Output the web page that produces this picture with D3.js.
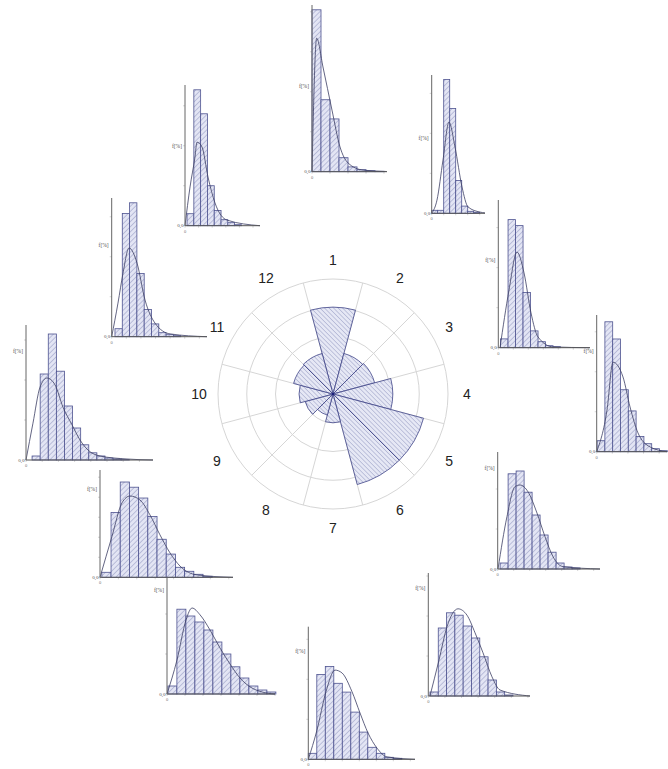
<!DOCTYPE html>
<html><head><meta charset="utf-8">
<script src="https://cdn.jsdelivr.net/npm/d3@7"></script>
<style>body{margin:0;background:#fff}svg{display:block}</style>
</head><body>
<svg id="c" width="668" height="769"></svg>
<script>
// ---------- central rose data ----------
const sectorLabels = ["1","2","3","4","5","6","7","8","9","10","11","12"];
const sectorValues = [15.1, 7.3, 7.5, 10.4, 16.3, 16.3, 5.0, 3.8, 5.0, 5.9, 7.1, 7.3];
const ringValues = [5, 10, 15, 20];

// ---------- histogram data (bar heights in %, one bar per class) ----------
const hist1  = [40.5, 18, 13.2, 3.5, 1.2, 0.5, 0.25, 0.1];
const hist2  = [0.75, 0.75, 33.5, 26.2, 8.2, 1.8, 0.5, 0.25];
const hist3  = [2.2, 32, 30.5, 13.8, 4.2, 1.5, 0.5, 0.25];
const hist4  = [2.75, 32.5, 28.2, 15.5, 10.2, 3.8, 2, 0.75, 0.25];
const hist5  = [1.5, 23.8, 24.5, 19.2, 13.5, 8.5, 4.2, 1.5, 0.5, 0.25];
const hist6  = [1, 17, 20.8, 20.2, 17.5, 14.5, 9.8, 4, 1, 0.25];
const hist7  = [1.5, 21.2, 23.2, 19, 16.8, 11.8, 6.8, 3, 1.5, 0.5, 0.25];
const hist8  = [2, 21.2, 19.5, 18, 16, 13, 10, 6.8, 4, 2, 1, 0.5];
const hist9  = [1.25, 16.2, 23.8, 22.5, 19.8, 15.2, 9.5, 5.8, 2.5, 1.5, 0.75, 0.25];
const hist10 = [1, 21.5, 31.5, 22.2, 13.5, 8, 3.8, 1.8, 1, 0.5, 0.25, 0.1];
const hist11 = [2, 30.8, 33.5, 15.8, 6.8, 3.2, 1, 0.5, 0.25];
const hist12 = [3, 34, 28, 10, 3.8, 1.5, 0.75, 0.25];

// fitted curves: [class position, %]
const curve1  = [[0,0],[0.52,33.4],[1.22,26.2],[2.22,15.4],[3.11,6.2],[4.0,2.2],[5.67,0.4],[8.3,0.05]];
const curve2  = [[0,0],[0.88,3.3],[1.88,13.3],[2.88,22.8],[3.88,16.6],[5.05,6.6],[6.05,1.6],[8.05,0.3],[8.88,0.1]];
const curve3  = [[0.23,0],[1.43,14.4],[2.49,23.9],[3.43,18.7],[4.36,8.7],[5.29,2.7],[7.29,0.2],[12.2,0]];
const curve4  = [[0,0],[1.32,10.4],[2.09,22.4],[3.37,18.7],[4.27,11.2],[5.29,4.7],[6.83,1.2],[9.0,0]];
const curve5  = [[0.04,0],[1.16,13.1],[2.16,20.6],[2.79,21],[3.79,19.3],[4.91,14],[5.91,8.1],[6.91,3.1],[8.16,0.6],[12.79,0]];
const curve6  = [[0.2,0],[1.29,9],[2.25,17.3],[3.58,21.8],[4.66,20.2],[5.63,15.8],[6.59,10.8],[7.67,4.8],[8.64,1.5],[12.25,0]];
const curve7  = [[0,0],[1.02,7.3],[2.08,16.9],[3.14,22.3],[3.96,21.6],[5.14,16.9],[6.08,11.6],[7.02,6.6],[8.08,2.8],[9.26,0.6],[12.55,0]];
const curve8  = [[0,0],[1.11,8.5],[2.11,18.5],[2.78,21.5],[3.67,19.8],[4.78,16],[5.89,11.5],[7,7.5],[8.11,4],[9.22,1.8],[10.56,0.5],[12,0]];
const curve9  = [[0,0],[1.3,10.2],[2.39,18.6],[3.26,20.3],[4.35,19.3],[5.43,15.6],[6.52,10.6],[7.61,6.1],[8.7,2.8],[10.54,0.6],[14.46,0]];
const curve10 = [[0,0],[0.86,9.2],[1.73,18.2],[2.59,20.5],[3.58,18.8],[4.57,13.2],[5.68,8.8],[6.67,5],[7.65,2.5],[9.14,1],[12.47,0.25],[15.68,0]];
const curve11 = [[0,0],[0.86,8.4],[1.55,15.9],[2.37,22.2],[3.47,18.4],[4.56,9.2],[5.93,3.4],[7.99,0.7],[13.05,0]];
const curve12 = [[0,0],[0.74,9.7],[1.47,17.2],[1.76,20.9],[2.5,19.7],[3.38,12.2],[4.41,5.7],[6.18,1.4],[11.03,0]];

const histStart = [0, 0, 0.3, 0.05, 0.3, 0.2, 0, 0.1, 0.2, 0.75, 0.45, 0.3];   // first class start
const histXMax  = [8.33, 8.88, 12.23, 9.01, 12.79, 12.25, 12.55, 12, 14.46, 15.68, 13.05, 11.03];
const histYTop  = [41.7, 34.6, 36.9, 34.2, 29.25, 30.75, 33.15, 29, 26.8, 33.75, 34.7, 35.2];
const histLabelAt = [0.50, 0.53, 0.58, 0.72, 0.85, 0.86, 0.80, 0.88, 0.80, 0.79, 0.65, 0.55];
const yLabel = "f[%]";
const zeroLabel = "0,0";

const hists  = [hist1,hist2,hist3,hist4,hist5,hist6,hist7,hist8,hist9,hist10,hist11,hist12];
const curves = [curve1,curve2,curve3,curve4,curve5,curve6,curve7,curve8,curve9,curve10,curve11,curve12];

// ---------- layout (pixels) ----------
const panels = [
  {x0:312,   y0:171.7, w:75,    h:166.7},
  {x0:431.7, y0:213.3, w:53.3,  h:138.3},
  {x0:498.3, y0:347.7, w:91.7,  h:147.7},
  {x0:596.7, y0:451.7, w:70.3,  h:136.7},
  {x0:497.7, y0:569,   w:102.3, h:117},
  {x0:428.3, y0:696,   w:101.7, h:123},
  {x0:308.3, y0:759.3, w:106.7, h:132.6},
  {x0:167,   y0:694,   w:108,   h:116},
  {x0:100,   y0:577.3, w:133,   h:107.3},
  {x0:26,    y0:460,   w:127,   h:135},
  {x0:111.7, y0:336.7, w:95.3,  h:138.7},
  {x0:185,   y0:225.7, w:75,    h:140.7}
];
const rose = {cx:333, cy:394, R:115, labelR:134};

const svg = d3.select("#c");
const defs = svg.append("defs");
function hatch(id, rot, bg, fg, size){
  const p = defs.append("pattern").attr("id", id).attr("patternUnits","userSpaceOnUse")
    .attr("width", size).attr("height", size).attr("patternTransform", `rotate(${rot})`);
  p.append("rect").attr("width", size).attr("height", size).attr("fill", bg);
  p.append("line").attr("x1",0).attr("y1",0).attr("x2",0).attr("y2",size)
    .attr("stroke", fg).attr("stroke-width", 0.8);
}
hatch("hH", 45, "#e3e5f4", "#7c81b2", 3.6);
hatch("hR", -45, "#e6e8f5", "#858ab8", 3.2);

// ---------- histograms ----------
panels.forEach((p, k) => {
  const g = svg.append("g");
  const x = d3.scaleLinear().domain([0, histXMax[k]]).range([p.x0, p.x0 + p.w]);
  const y = d3.scaleLinear().domain([0, histYTop[k]]).range([p.y0, p.y0 - p.h]);
  const data = hists[k];
  const s = histStart[k];
  // faint ticks
  const yt = y.ticks(4);
  g.selectAll("line.yt").data(yt).join("line")
    .attr("x1", p.x0 - 2).attr("x2", p.x0).attr("y1", d => y(d)).attr("y2", d => y(d))
    .attr("stroke", "#bbb").attr("stroke-width", 0.6);
  const xt = d3.range(0, Math.floor(histXMax[k]) + 1, 2);
  g.selectAll("line.xt").data(xt).join("line")
    .attr("x1", d => x(d)).attr("x2", d => x(d)).attr("y1", p.y0).attr("y2", p.y0 + 2)
    .attr("stroke", "#bbb").attr("stroke-width", 0.6);
  // bars
  g.selectAll("rect.bar").data(data).join("rect")
    .attr("x", (d, i) => x(s + i))
    .attr("width", (d, i) => x(s + i + 1) - x(s + i))
    .attr("y", d => y(d))
    .attr("height", d => p.y0 - y(d))
    .attr("fill", "url(#hH)")
    .attr("stroke", "#4e5390").attr("stroke-width", 0.8);
  // curve
  g.append("path").datum(curves[k])
    .attr("d", d3.line().x(d => x(d[0])).y(d => y(d[1])).curve(d3.curveMonotoneX))
    .attr("fill", "none").attr("stroke", "#3b3d63").attr("stroke-width", 0.8);
  // axes
  g.append("line").attr("x1", x(0)).attr("x2", x(histXMax[k])).attr("y1", p.y0).attr("y2", p.y0)
    .attr("stroke", "#555").attr("stroke-width", 1);
  g.append("line").attr("x1", p.x0).attr("x2", p.x0).attr("y1", y(0)).attr("y2", y(histYTop[k]))
    .attr("stroke", "#666").attr("stroke-width", 1);
  // labels
  g.append("text").attr("x", p.x0 - 3).attr("y", y(histLabelAt[k] * histYTop[k]))
    .attr("text-anchor", "end").attr("font-family", "Liberation Serif").attr("font-size", 5.5)
    .attr("fill", "#555").text(yLabel);
  g.append("text").attr("x", p.x0 - 1.5).attr("y", p.y0 + 1.5)
    .attr("text-anchor", "end").attr("font-family", "Liberation Serif").attr("font-size", 5)
    .attr("fill", "#555").text(zeroLabel);
  g.append("text").attr("x", p.x0).attr("y", p.y0 + 7)
    .attr("text-anchor", "middle").attr("font-family", "Liberation Serif").attr("font-size", 4.5)
    .attr("fill", "#777").text("0");
});

// ---------- rose ----------
const rg = svg.append("g").attr("transform", `translate(${rose.cx},${rose.cy})`);
const r = d3.scaleLinear().domain([0, d3.max(ringValues)]).range([0, rose.R]);
const toRad = a => a * Math.PI / 180;
const step = 360 / sectorLabels.length;

rg.selectAll("circle.ring").data(ringValues).join("circle")
  .attr("r", d => r(d)).attr("fill", "none").attr("stroke", "#d6d6d6").attr("stroke-width", 1);
rg.selectAll("line.spoke").data(sectorLabels).join("line")
  .attr("x1", 0).attr("y1", 0)
  .attr("x2", (d, i) => rose.R * Math.sin(toRad(i * step + step / 2)))
  .attr("y2", (d, i) => -rose.R * Math.cos(toRad(i * step + step / 2)))
  .attr("stroke", "#d6d6d6").attr("stroke-width", 1);

const arc = d3.arc().innerRadius(0);
rg.selectAll("path.sector").data(sectorValues).join("path")
  .attr("d", (d, i) => arc({outerRadius: r(d), startAngle: toRad(i * step - step / 2), endAngle: toRad(i * step + step / 2)}))
  .attr("fill", "url(#hR)").attr("stroke", "#3f4488").attr("stroke-width", 0.8);
rg.append("circle").attr("r", 1.2).attr("fill", "#1a1f7a");

rg.selectAll("text.lab").data(sectorLabels).join("text")
  .attr("x", (d, i) => rose.labelR * Math.sin(toRad(i * step)))
  .attr("y", (d, i) => -rose.labelR * Math.cos(toRad(i * step)))
  .attr("text-anchor", "middle").attr("dominant-baseline", "central")
  .attr("font-family", "Liberation Sans, Arial, sans-serif").attr("font-size", 14)
  .attr("fill", "#222").text(d => d);
</script>
</body></html>
